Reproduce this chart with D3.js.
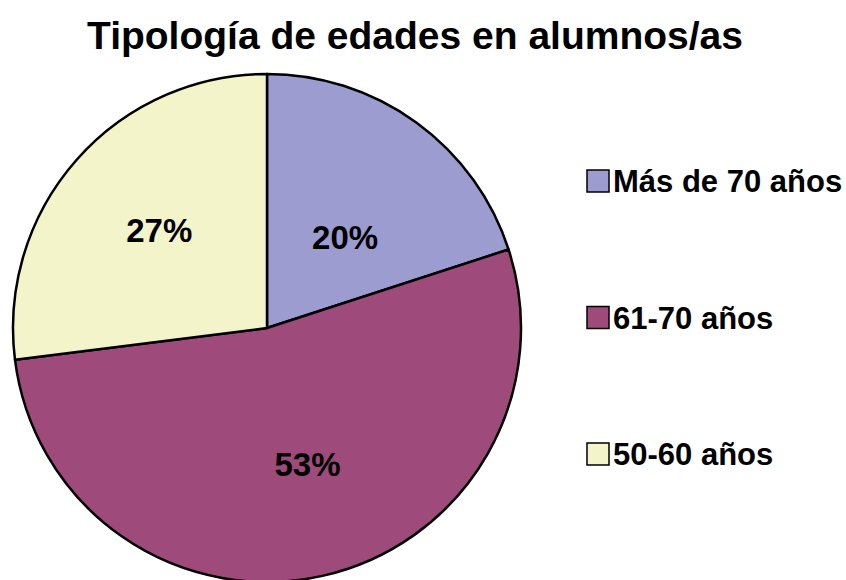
<!DOCTYPE html>
<html>
<head>
<meta charset="utf-8">
<script src="https://cdn.jsdelivr.net/npm/d3@7"></script>
<style>
  body { margin: 0; background: #fff; }
  text { font-family: "Liberation Sans", Arial, sans-serif; font-weight: bold; fill: #000; }
</style>
</head>
<body>
<svg id="chart"></svg>
<script>
const categories = ["Más de 70 años", "61-70 años", "50-60 años"];
const values = [20, 53, 27];
const colors = ["#9c9cd0", "#9e4a7a", "#f4f4ca"];

const width = 846, height = 580;
const cx = 267, cy = 328, radius = 254;
// small nudges so the % labels sit where the original put them
const labelNudge = [[-4, 22], [10, 0], [-3, -6]];

const svg = d3.select("#chart").attr("width", width).attr("height", height);

svg.append("text")
  .attr("x", 415).attr("y", 49)
  .attr("text-anchor", "middle")
  .style("font-size", "39px")
  .text("Tipología de edades en alumnos/as");

const pie = d3.pie().value(d => d).sort(null);
const arc = d3.arc().innerRadius(0).outerRadius(radius);
const labelArc = d3.arc().innerRadius(radius * 0.55).outerRadius(radius * 0.55);

const g = svg.append("g").attr("transform", `translate(${cx},${cy})`);
const arcs = pie(values);

g.selectAll("path").data(arcs).enter().append("path")
  .attr("d", arc)
  .attr("fill", (d, i) => colors[i])
  .attr("stroke", "#000")
  .attr("stroke-width", 2.5)
  .attr("stroke-linejoin", "round");

g.selectAll(".lbl").data(arcs).enter().append("text")
  .attr("class", "lbl")
  .attr("transform", (d, i) => {
    const [x, y] = labelArc.centroid(d);
    return `translate(${x + labelNudge[i][0]},${y + labelNudge[i][1]})`;
  })
  .attr("text-anchor", "middle")
  .attr("dy", "0.36em")
  .style("font-size", "33px")
  .text(d => d.data + "%");

const legendY = d3.scalePoint().domain(categories).range([181, 454]);
const legend = svg.append("g").selectAll("g").data(categories).enter().append("g")
  .attr("transform", d => `translate(587,${legendY(d)})`);

legend.append("rect")
  .attr("x", 0).attr("y", -11).attr("width", 22).attr("height", 22)
  .attr("fill", (d, i) => colors[i])
  .attr("stroke", "#000").attr("stroke-width", 1.5);

legend.append("text")
  .attr("x", 26).attr("dy", "0.36em")
  .style("font-size", "31px")
  .text(d => d);
</script>
</body>
</html>
